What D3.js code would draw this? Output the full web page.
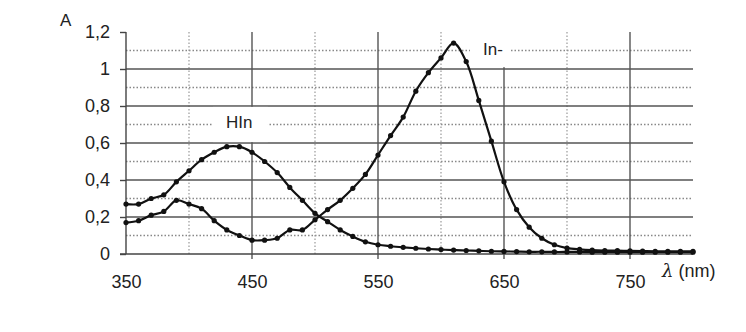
<!DOCTYPE html>
<html>
<head>
<meta charset="utf-8">
<script src="https://cdn.jsdelivr.net/npm/d3@7/dist/d3.min.js"></script>
<style>
  body { margin: 0; background: #fff; }
  svg { display: block; font-family: "Liberation Sans", Arial, sans-serif; }
</style>
</head>
<body>
<svg id="chart" width="746" height="332"></svg>
<script>
// wavelengths (nm), one point every 10 nm
var wavelengths = [350, 360, 370, 380, 390, 400, 410, 420, 430, 440,
  450, 460, 470, 480, 490, 500, 510, 520, 530, 540,
  550, 560, 570, 580, 590, 600, 610, 620, 630, 640,
  650, 660, 670, 680, 690, 700, 710, 720, 730, 740,
  750, 760, 770, 780, 790, 800];

// absorbance of the acid form HIn
var hinValues = [0.27, 0.27, 0.30, 0.32, 0.39, 0.45, 0.51, 0.55, 0.58, 0.58,
  0.55, 0.50, 0.44, 0.36, 0.29, 0.22, 0.175, 0.13, 0.095, 0.066,
  0.05, 0.042, 0.036, 0.031, 0.027, 0.024, 0.021, 0.019, 0.017, 0.015,
  0.014, 0.013, 0.012, 0.012, 0.011, 0.011, 0.011, 0.01, 0.01, 0.01,
  0.01, 0.01, 0.01, 0.01, 0.01, 0.01];

// absorbance of the base form In-
var inValues = [0.17, 0.18, 0.21, 0.23, 0.29, 0.27, 0.245, 0.18, 0.13, 0.10,
  0.075, 0.075, 0.085, 0.13, 0.13, 0.185, 0.24, 0.29, 0.355, 0.43,
  0.535, 0.64, 0.74, 0.88, 0.98, 1.06, 1.14, 1.04, 0.83, 0.61,
  0.39, 0.24, 0.145, 0.085, 0.05, 0.032, 0.025, 0.021, 0.019, 0.018,
  0.017, 0.016, 0.015, 0.015, 0.015, 0.015];

var xTicks = [350, 450, 550, 650, 750];
var xMinor = [400, 500, 600, 700];
var yTicks = [0, 0.2, 0.4, 0.6, 0.8, 1, 1.2];
var yTickLabels = ["0", "0,2", "0,4", "0,6", "0,8", "1", "1,2"];
var yMinor = [0.1, 0.3, 0.5, 0.7, 0.9, 1.1];

var svg = d3.select("svg#chart");
var margin = { top: 32, right: 53, bottom: 78, left: 126 };
var width = +svg.attr("width") - margin.left - margin.right;
var height = +svg.attr("height") - margin.top - margin.bottom;

var xScale = d3.scaleLinear().domain([350, 800]).range([0, width]);
var yScale = d3.scaleLinear().domain([0, 1.2]).range([height, 0]);

var g = svg.append("g").attr("transform", "translate(" + margin.left + "," + margin.top + ")");

// dotted minor grid
g.selectAll("line.hminor").data(yMinor).enter().append("line")
  .attr("x1", 0).attr("x2", width)
  .attr("y1", function (d) { return yScale(d); }).attr("y2", function (d) { return yScale(d); })
  .style("stroke", "#888").style("stroke-width", 1.4).style("stroke-dasharray", "1.5,2");
g.selectAll("line.vminor").data(xMinor).enter().append("line")
  .attr("x1", function (d) { return xScale(d); }).attr("x2", function (d) { return xScale(d); })
  .attr("y1", 0).attr("y2", height)
  .style("stroke", "#999").style("stroke-width", 1.2).style("stroke-dasharray", "1.5,2");

// solid major grid
g.selectAll("line.hmajor").data(yTicks.filter(function (d) { return d > 0 && d < 1.2; })).enter().append("line")
  .attr("x1", 0).attr("x2", width)
  .attr("y1", function (d) { return yScale(d); }).attr("y2", function (d) { return yScale(d); })
  .style("stroke", "#555").style("stroke-width", 1.4);
g.selectAll("line.vmajor").data(xTicks.slice(1)).enter().append("line")
  .attr("x1", function (d) { return xScale(d); }).attr("x2", function (d) { return xScale(d); })
  .attr("y1", 0).attr("y2", height + 5)
  .style("stroke", "#555").style("stroke-width", 1.4);

// axes
var leftAxis = d3.axisLeft(yScale).tickValues(yTicks)
  .tickFormat(function (d, i) { return yTickLabels[i]; }).tickSize(6).tickPadding(10);
var yAxisG = g.append("g").call(leftAxis);
yAxisG.selectAll("text").style("font-size", "18px").style("fill", "#222");
yAxisG.selectAll("path, line").style("stroke", "#444").style("stroke-width", 1.4);
yAxisG.select("path.domain").attr("d", "M0," + height + "V0");

var bottomAxis = d3.axisBottom(xScale).tickValues(xTicks).tickSize(0).tickPadding(21);
var xAxisG = g.append("g").attr("transform", "translate(0," + height + ")").call(bottomAxis);
xAxisG.selectAll("text").style("font-size", "18px").style("fill", "#222");
xAxisG.select("path.domain").attr("d", "M-6,0H" + width).style("stroke", "#444").style("stroke-width", 1.6);

// white boxes behind the curve labels (they break the grid in the original)
g.append("rect").attr("x", xScale(419)).attr("y", yScale(0.795))
  .attr("width", 55).attr("height", yScale(0.605) - yScale(0.795)).style("fill", "#fff");
g.append("rect").attr("x", xScale(623)).attr("y", yScale(1.2) - 1)
  .attr("width", 40).attr("height", yScale(1.01) - yScale(1.2) + 1).style("fill", "#fff");

// series
var line = d3.line().curve(d3.curveCatmullRom.alpha(0.5))
  .x(function (d) { return xScale(d[0]); })
  .y(function (d) { return yScale(d[1]); });

[hinValues, inValues].forEach(function (vals) {
  var pts = wavelengths.map(function (w, i) { return [w, vals[i]]; });
  g.append("path").datum(pts).attr("d", line)
    .style("fill", "none").style("stroke", "#111").style("stroke-width", 2.2);
  g.selectAll(null).data(pts).enter().append("circle")
    .attr("cx", function (d) { return xScale(d[0]); })
    .attr("cy", function (d) { return yScale(d[1]); })
    .attr("r", 2.6).style("fill", "#111");
});

// labels
svg.append("text").attr("x", 60).attr("y", 26).text("A")
  .style("font-size", "17px").style("fill", "#222");
svg.append("text").attr("x", 226).attr("y", 128).text("HIn")
  .style("font-size", "17px").style("fill", "#222");
svg.append("text").attr("x", 483).attr("y", 55).text("In-")
  .style("font-size", "17px").style("fill", "#222");
var lam = svg.append("text").attr("x", 662).attr("y", 277)
  .style("font-size", "18px").style("fill", "#222");
lam.append("tspan").style("font-style", "italic").style("font-family", "'DejaVu Serif', serif").text("λ");
lam.append("tspan").text(" (nm)");
</script>
</body>
</html>
